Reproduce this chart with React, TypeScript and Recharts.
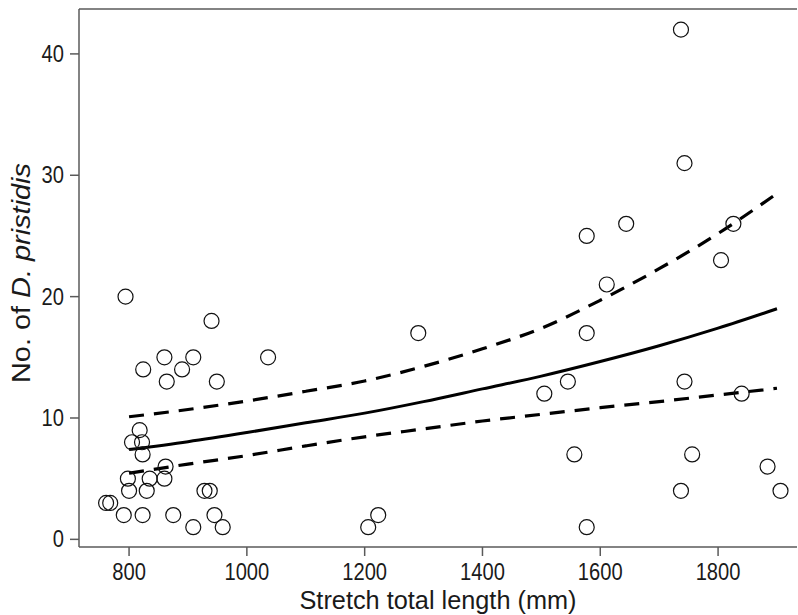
import { ComposedChart, Line, ReferenceLine, Scatter, XAxis, YAxis } from "recharts";

// sawfish stretch total length (mm) vs parasite count
const lengthMm = [
  794, 824, 860, 864, 890, 909, 940, 949, 1036, 818, 805, 822, 823, 862, 798, 835, 860,
  800, 830, 928, 937, 761, 768, 791, 823, 875, 945, 909, 959, 1206, 1223, 1291, 1505,
  1545, 1556, 1577, 1577, 1577, 1611, 1644, 1737, 1743, 1743, 1737, 1756, 1805, 1826,
  1840, 1884, 1906,
];
const counts = [
  20, 14, 15, 13, 14, 15, 18, 13, 15, 9, 8, 8, 7, 6, 5, 5, 5, 4, 4, 4, 4, 3, 3, 2, 2, 2,
  2, 1, 1, 1, 2, 17, 12, 13, 7, 25, 17, 1, 21, 26, 42, 31, 13, 4, 7, 23, 26, 12, 6, 4,
];

// fitted curve + 95% CI
const fitLength = [800, 900, 1000, 1100, 1200, 1300, 1400, 1500, 1600, 1700, 1800, 1900];
const fitMean = [7.4, 8.05, 8.8, 9.6, 10.4, 11.35, 12.4, 13.45, 14.65, 15.95, 17.4, 19.0];
const fitUpper = [10.1, 10.7, 11.4, 12.2, 13.05, 14.25, 15.7, 17.4, 19.7, 22.3, 25.2, 28.5];
const fitLower = [5.45, 6.2, 6.9, 7.7, 8.45, 9.1, 9.75, 10.3, 10.85, 11.35, 11.9, 12.45];

const xTicks = [800, 1000, 1200, 1400, 1600, 1800];
const yTicks = [0, 10, 20, 30, 40];

const points = lengthMm.map((x, i) => ({ x, y: counts[i] }));
const fit = fitLength.map((x, i) => ({
  x,
  mean: fitMean[i],
  upper: fitUpper[i],
  lower: fitLower[i],
}));

const font = "'Liberation Sans', Arial, Helvetica, sans-serif";
const axisColor = "#5a5a5a";

function XTick(props: any) {
  const label = String(props.payload.value);
  return (
    <text
      x={props.x}
      y={props.y}
      dy={22}
      textAnchor="middle"
      fontFamily={font}
      fontSize={23}
      fill="#1a1a1a"
      textLength={label.length * 11.2}
      lengthAdjust="spacingAndGlyphs"
    >
      {label}
    </text>
  );
}

function YTick(props: any) {
  const label = String(props.payload.value);
  return (
    <text
      x={props.x}
      y={props.y}
      dy={8}
      textAnchor="end"
      fontFamily={font}
      fontSize={23}
      fill="#1a1a1a"
      textLength={label.length * 11.2}
      lengthAdjust="spacingAndGlyphs"
    >
      {label}
    </text>
  );
}

function Ring(props: any) {
  return <circle cx={props.cx} cy={props.cy} r={7.5} fill="none" stroke="#111" strokeWidth={1.2} />;
}

export default function App() {
  return (
    <div style={{ position: "absolute", left: 0, top: 0, background: "#fff" }}>
      <ComposedChart width={798} height={615} margin={{ top: 9, right: 1, bottom: 0, left: 0 }}>
        <XAxis
          type="number"
          dataKey="x"
          domain={[715, 1934]}
          ticks={xTicks}
          allowDataOverflow
          height={68}
          tickSize={9}
          tickMargin={2}
          axisLine={{ stroke: axisColor, strokeWidth: 1.5 }}
          tickLine={{ stroke: axisColor, strokeWidth: 1.5 }}
          tick={<XTick />}
          label={{
            content: (p: any) => (
              <text
                x={p.viewBox.x + p.viewBox.width / 2}
                y={609}
                textAnchor="middle"
                fontFamily={font}
                fontSize={25}
                fill="#1a1a1a"
                textLength={277}
                lengthAdjust="spacingAndGlyphs"
              >
                Stretch total length (mm)
              </text>
            ),
          }}
        />
        <YAxis
          type="number"
          domain={[-0.63, 43.7]}
          ticks={yTicks}
          allowDataOverflow
          width={79}
          tickSize={9}
          tickMargin={6}
          axisLine={{ stroke: axisColor, strokeWidth: 1.5 }}
          tickLine={{ stroke: axisColor, strokeWidth: 1.5 }}
          tick={<YTick />}
          label={{
            content: () => (
              <text
                x={30}
                y={273}
                transform="rotate(-90, 30, 273)"
                textAnchor="middle"
                fontFamily={font}
                fontSize={25}
                fill="#1a1a1a"
                textLength={220}
                lengthAdjust="spacingAndGlyphs"
              >
                No. of <tspan fontStyle="italic">D. pristidis</tspan>
              </text>
            ),
          }}
        />
        <ReferenceLine y={43.7} stroke={axisColor} strokeWidth={1.5} />
        <Line
          data={fit}
          dataKey="upper"
          type="monotone"
          stroke="#000"
          strokeWidth={3.2}
          strokeDasharray="15 10"
          dot={false}
          isAnimationActive={false}
        />
        <Line
          data={fit}
          dataKey="lower"
          type="monotone"
          stroke="#000"
          strokeWidth={3.2}
          strokeDasharray="15 10"
          dot={false}
          isAnimationActive={false}
        />
        <Line
          data={fit}
          dataKey="mean"
          type="monotone"
          stroke="#000"
          strokeWidth={3}
          dot={false}
          isAnimationActive={false}
        />
        <Scatter data={points} dataKey="y" shape={<Ring />} isAnimationActive={false} />
      </ComposedChart>
    </div>
  );
}
